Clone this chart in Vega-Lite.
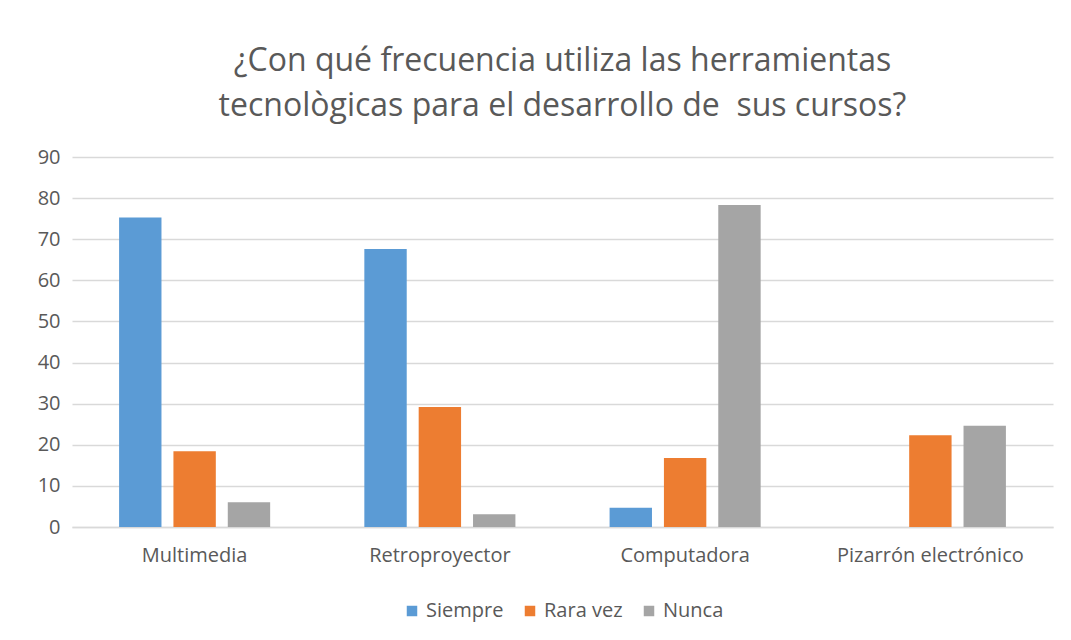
{
  "$schema": "https://vega.github.io/schema/vega-lite/v6.json",
  "width": 981,
  "height": 370,
  "autosize": "none",
  "padding": {"left": 72, "top": 157, "right": 18, "bottom": 113},
  "background": "white",
  "title": {
    "text": ["¿Con qué frecuencia utiliza las herramientas", "tecnològicas para el desarrollo de\u00a0 sus cursos?"],
    "anchor": "middle",
    "frame": "group",
    "font": "Open Sans",
    "fontSize": 32,
    "fontWeight": "normal",
    "color": "#595959",
    "lineHeight": 45,
    "offset": 24
  },
  "data": {
    "values": [
      {"herramienta": "Multimedia", "frecuencia": "Siempre", "valor": 75.3},
      {"herramienta": "Multimedia", "frecuencia": "Rara vez", "valor": 18.4},
      {"herramienta": "Multimedia", "frecuencia": "Nunca", "valor": 6.0},
      {"herramienta": "Retroproyector", "frecuencia": "Siempre", "valor": 67.6},
      {"herramienta": "Retroproyector", "frecuencia": "Rara vez", "valor": 29.2},
      {"herramienta": "Retroproyector", "frecuencia": "Nunca", "valor": 3.1},
      {"herramienta": "Computadora", "frecuencia": "Siempre", "valor": 4.7},
      {"herramienta": "Computadora", "frecuencia": "Rara vez", "valor": 16.8},
      {"herramienta": "Computadora", "frecuencia": "Nunca", "valor": 78.3},
      {"herramienta": "Pizarrón electrónico", "frecuencia": "Siempre", "valor": 0},
      {"herramienta": "Pizarrón electrónico", "frecuencia": "Rara vez", "valor": 22.3},
      {"herramienta": "Pizarrón electrónico", "frecuencia": "Nunca", "valor": 24.6}
    ]
  },
  "mark": {"type": "bar"},
  "encoding": {
    "x": {
      "field": "herramienta",
      "type": "nominal",
      "sort": ["Multimedia", "Retroproyector", "Computadora", "Pizarrón electrónico"],
      "scale": {"paddingInner": 0.384, "paddingOuter": 0.192},
      "axis": {
        "title": null,
        "labelAngle": 0,
        "ticks": false,
        "domain": true,
        "domainColor": "#d9d9d9",
        "domainWidth": 1.5,
        "labelFont": "Open Sans",
        "labelFontSize": 20,
        "labelColor": "#595959",
        "labelPadding": 18,
        "labelLimit": 0
      }
    },
    "xOffset": {
      "field": "frecuencia",
      "type": "nominal",
      "sort": ["Siempre", "Rara vez", "Nunca"],
      "scale": {"paddingInner": 0.22, "paddingOuter": 0}
    },
    "y": {
      "field": "valor",
      "type": "quantitative",
      "scale": {"domain": [0, 90]},
      "axis": {
        "title": null,
        "values": [0, 10, 20, 30, 40, 50, 60, 70, 80, 90],
        "ticks": false,
        "domain": false,
        "grid": true,
        "gridColor": "#d9d9d9",
        "gridWidth": 1.5,
        "labelFont": "Open Sans",
        "labelFontSize": 20,
        "labelColor": "#595959",
        "labelPadding": 12
      }
    },
    "color": {
      "field": "frecuencia",
      "type": "nominal",
      "sort": ["Siempre", "Rara vez", "Nunca"],
      "scale": {"domain": ["Siempre", "Rara vez", "Nunca"], "range": ["#5B9BD5", "#ED7D31", "#A5A5A5"]},
      "legend": {
        "title": null,
        "orient": "bottom",
        "direction": "horizontal",
        "symbolType": "square",
        "symbolSize": 110,
        "symbolStrokeWidth": 0,
        "labelFont": "Open Sans",
        "labelFontSize": 20,
        "labelColor": "#595959",
        "columnPadding": 16,
        "offset": 36
      }
    }
  },
  "config": {
    "view": {"stroke": null},
    "legend": {"layout": {"bottom": {"anchor": "middle"}}}
  }
}
